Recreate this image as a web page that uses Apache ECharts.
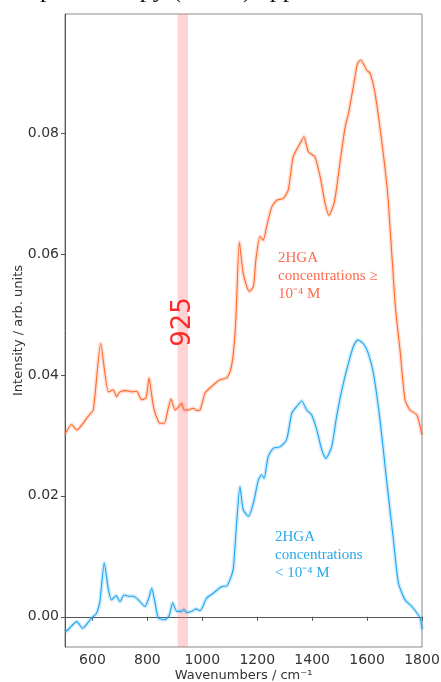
<!DOCTYPE html>
<html>
<head>
<meta charset="utf-8">
<script src="https://cdn.jsdelivr.net/npm/echarts@6/dist/echarts.min.js"></script>
<style>
  html, body { margin: 0; padding: 0; background: #fff; }
  #chart { width: 441px; height: 682px; }
</style>
</head>
<body>
<div id="chart"></div>
<script>
// SERS spectra of 2HGA: high-concentration (offset) and low-concentration averages
const highWavenumbers = [500, 524, 543, 585, 603, 630, 658, 676, 688, 700, 725, 745, 761, 779, 795, 806, 819, 828, 846, 862, 873, 886, 901, 915, 925, 934, 949, 967, 980, 992, 1010, 1034, 1064, 1089, 1103, 1113, 1122, 1135, 1149, 1171, 1186, 1195, 1210, 1222, 1234, 1253, 1271, 1295, 1313, 1331, 1356, 1370, 1386, 1410, 1429, 1447, 1461, 1481, 1501, 1520, 1532, 1550, 1565, 1577, 1599, 1611, 1629, 1659, 1677, 1702, 1720, 1738, 1756, 1781, 1800];
const highIntensity = [0.0302, 0.0318, 0.0309, 0.0332, 0.0342, 0.0452, 0.0372, 0.0375, 0.0364, 0.0372, 0.0374, 0.0372, 0.0373, 0.0359, 0.0362, 0.0395, 0.0356, 0.0337, 0.0320, 0.0320, 0.0339, 0.0360, 0.0342, 0.0348, 0.0353, 0.0342, 0.0342, 0.0345, 0.0341, 0.0342, 0.0370, 0.0381, 0.0392, 0.0395, 0.0408, 0.0436, 0.0490, 0.0620, 0.0568, 0.0538, 0.0546, 0.0590, 0.0629, 0.0623, 0.0645, 0.0678, 0.0689, 0.0692, 0.0706, 0.0761, 0.0783, 0.0794, 0.0769, 0.0761, 0.0728, 0.0684, 0.0664, 0.0686, 0.0750, 0.0810, 0.0832, 0.0877, 0.0915, 0.0921, 0.0904, 0.0899, 0.0866, 0.0766, 0.0689, 0.0518, 0.0441, 0.0359, 0.0342, 0.0334, 0.0301];

const lowWavenumbers = [500, 512, 543, 564, 597, 615, 627, 643, 658, 670, 686, 700, 715, 731, 749, 767, 791, 803, 816, 828, 840, 864, 880, 892, 907, 925, 933, 943, 961, 977, 992, 1016, 1040, 1071, 1089, 1103, 1113, 1125, 1137, 1149, 1168, 1186, 1204, 1216, 1225, 1240, 1259, 1283, 1307, 1326, 1344, 1362, 1380, 1398, 1417, 1435, 1450, 1471, 1489, 1508, 1532, 1550, 1566, 1586, 1604, 1623, 1647, 1671, 1696, 1714, 1738, 1763, 1793, 1800];
const lowIntensity = [-0.0025, -0.0021, -0.0008, -0.0019, -0.0002, 0.0006, 0.0025, 0.0089, 0.0045, 0.0028, 0.0035, 0.0025, 0.0036, 0.0034, 0.0034, 0.0028, 0.0017, 0.0028, 0.0047, 0.0023, -0.0002, -0.0005, 0.0003, 0.0023, 0.0009, 0.0009, 0.0012, 0.0007, 0.0009, 0.0013, 0.0010, 0.0031, 0.0039, 0.0050, 0.0051, 0.0064, 0.0080, 0.0155, 0.0215, 0.0177, 0.0166, 0.0188, 0.0226, 0.0235, 0.0229, 0.0265, 0.0279, 0.0281, 0.0293, 0.0337, 0.0348, 0.0357, 0.0342, 0.0334, 0.0309, 0.0276, 0.0262, 0.0281, 0.0331, 0.0375, 0.0419, 0.0447, 0.0458, 0.0452, 0.0436, 0.0403, 0.0326, 0.0226, 0.0127, 0.0056, 0.0028, 0.0017, -0.0002, -0.0021];

// Highlighted band around the 925 cm-1 feature
const bandRange = [910, 948];
const bandLabel = '925';

const xTicks = [600, 800, 1000, 1200, 1400, 1600, 1800];
const yTicks = [0.00, 0.02, 0.04, 0.06, 0.08];

const highColor = '#ff6a2e';
const lowColor = '#22a6ee';

const pairs = (xs, ys) => xs.map((x, i) => [x, ys[i]]);

const chart = echarts.init(document.getElementById('chart'), null, { renderer: 'canvas' });

function spectrum(data, color, z) {
  return [
    { // shaded spread around the mean trace
      type: 'line', data, smooth: 0.2, symbol: 'none', silent: true, z,
      lineStyle: { color, width: 4, opacity: 0.22 }
    },
    {
      type: 'line', data, smooth: 0.2, symbol: 'none', z: z + 1,
      lineStyle: { color, width: 1.1 }
    }
  ];
}

const highData = pairs(highWavenumbers, highIntensity);
const lowData = pairs(lowWavenumbers, lowIntensity);

chart.setOption({
  animation: false,
  grid: {
    left: 65, right: 19, top: 14, bottom: 35,
    containLabel: false, outerBoundsMode: 'none',
    show: true, borderColor: '#8a8a8a', borderWidth: 1
  },
  xAxis: {
    type: 'value', min: 500, max: 1800,
    name: 'Wavenumbers / cm\u207B\u00B9', nameLocation: 'middle', nameGap: 22, nameMoveOverlap: false,
    nameTextStyle: { fontFamily: 'DejaVu Sans', fontSize: 13, color: '#333' },
    axisLine: { show: true, lineStyle: { color: '#555', width: 1 } },
    axisTick: { show: true, length: 4, lineStyle: { color: '#555' }, customValues: xTicks },
    axisLabel: {
      fontFamily: 'DejaVu Sans', fontSize: 14, color: '#333', margin: 6,
      customValues: xTicks, formatter: v => String(v)
    },
    splitLine: { show: false }
  },
  yAxis: {
    type: 'value', min: -0.005, max: 0.0997,
    name: 'Intensity / arb. units', nameLocation: 'middle', nameGap: 40, nameMoveOverlap: false,
    nameTextStyle: { fontFamily: 'DejaVu Sans', fontSize: 13, color: '#333' },
    axisLine: { show: true, lineStyle: { color: '#555', width: 1 } },
    axisTick: { show: true, length: 4, lineStyle: { color: '#555' }, customValues: yTicks },
    axisLabel: {
      fontFamily: 'DejaVu Sans', fontSize: 14, color: '#333', margin: 6,
      customValues: yTicks, formatter: v => v.toFixed(2)
    },
    splitLine: { show: false }
  },
  series: [
    {
      type: 'line', data: [], silent: true,
      markArea: {
        silent: true,
        itemStyle: { color: 'rgba(255, 120, 125, 0.32)' },
        data: [[{ xAxis: bandRange[0] }, { xAxis: bandRange[1] }]]
      }
    },
    ...spectrum(highData, highColor, 3),
    ...spectrum(lowData, lowColor, 5)
  ],
  graphic: [
    {
      type: 'text', x: 30, y: 3, silent: true,
      style: {
        text: 'spectroscopy (SERS) applied', font: '26px "Liberation Serif"',
        fill: '#111', verticalAlign: 'bottom'
      }
    },
    {
      type: 'text', x: 183, y: 322, rotation: Math.PI / 2, silent: true, z: 10,
      style: { text: bandLabel, font: '26px "DejaVu Sans"', fill: '#ff2a2a', align: 'center', verticalAlign: 'middle' }
    },
    {
      type: 'text', x: 278, y: 249, silent: true, z: 10,
      style: {
        text: '2HGA\nconcentrations \u2265\n10\u207B\u2074 M',
        font: '15px "Liberation Serif"', lineHeight: 18, fill: '#ff6a4e'
      }
    },
    {
      type: 'text', x: 275, y: 528, silent: true, z: 10,
      style: {
        text: '2HGA\nconcentrations\n< 10\u207B\u2074 M',
        font: '15px "Liberation Serif"', lineHeight: 18, fill: '#2aa8ea'
      }
    }
  ]
});
</script>
</body>
</html>
